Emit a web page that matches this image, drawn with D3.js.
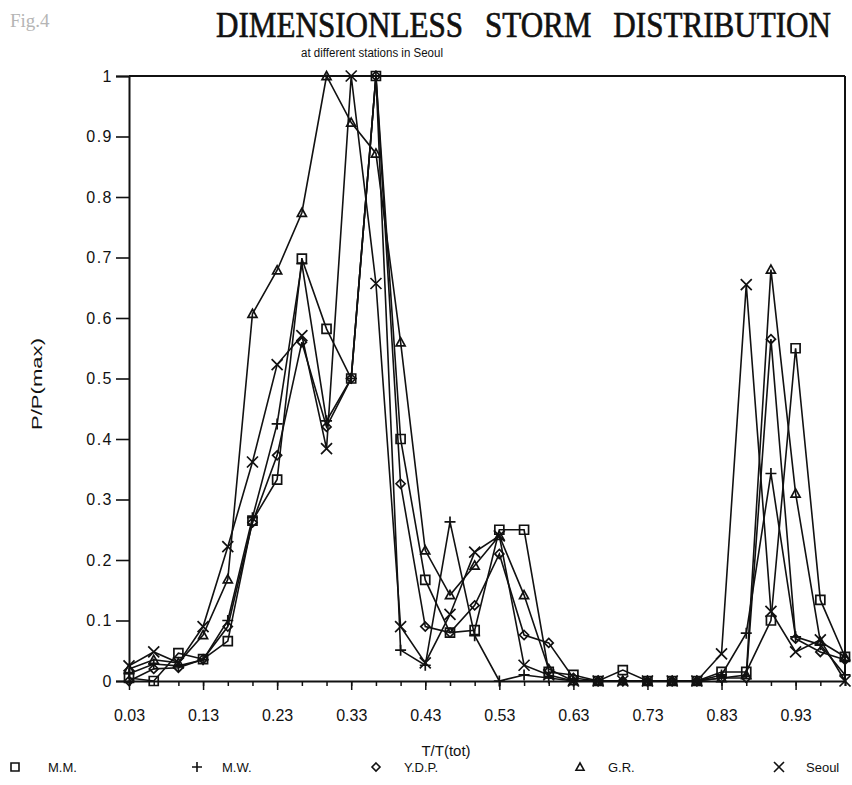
<!DOCTYPE html>
<html>
<head>
<meta charset="utf-8">
<script src="https://cdn.jsdelivr.net/npm/d3@7"></script>
<style>
  html, body { margin: 0; padding: 0; background: #fff; }
  svg { display: block; }
</style>
</head>
<body>
<svg id="chart" width="852" height="785"></svg>
<script>
// ---------- DATA ----------
const tValues = [0.0333, 0.0667, 0.1, 0.1333, 0.1667, 0.2, 0.2333, 0.2667, 0.3, 0.3333,
                 0.3667, 0.4, 0.4333, 0.4667, 0.5, 0.5333, 0.5667, 0.6, 0.6333, 0.6667,
                 0.7, 0.7333, 0.7667, 0.8, 0.8333, 0.8667, 0.9, 0.9333, 0.9667, 1.0];

const seriesNames = ["M.M.", "M.W.", "Y.D.P.", "G.R.", "Seoul"];

const valuesMM    = [0.005, 0, 0.046, 0.036, 0.066, 0.265, 0.333, 0.698, 0.582, 0.5,
                     1.0, 0.4, 0.167, 0.08, 0.084, 0.25, 0.25, 0.015, 0.01, 0,
                     0.018, 0, 0, 0, 0.015, 0.015, 0.1, 0.55, 0.134, 0.04];
const valuesMW    = [0.012, 0.028, 0.025, 0.035, 0.1, 0.27, 0.425, 0.69, 0.43, 0.5,
                     1.0, 0.051, 0.026, 0.263, 0.075, 0, 0.01, 0.005, 0, 0,
                     0, 0, 0, 0, 0.01, 0.079, 0.343, 0.073, 0.06, 0.01];
const valuesYDP   = [0, 0.02, 0.022, 0.036, 0.09, 0.262, 0.373, 0.56, 0.42, 0.5,
                     1.0, 0.326, 0.09, 0.08, 0.125, 0.21, 0.076, 0.063, 0.005, 0,
                     0, 0, 0, 0, 0.005, 0.005, 0.565, 0.07, 0.048, 0.035];
const valuesGR    = [0.02, 0.035, 0.03, 0.076, 0.168, 0.607, 0.679, 0.774, 1.0, 0.923,
                     0.872, 0.56, 0.216, 0.142, 0.191, 0.24, 0.142, 0.02, 0, 0,
                     0, 0, 0, 0, 0.005, 0.01, 0.68, 0.31, 0.065, 0.04];
const valuesSeoul = [0.025, 0.048, 0.03, 0.09, 0.222, 0.362, 0.523, 0.571, 0.384, 1.0,
                     0.657, 0.09, 0.03, 0.11, 0.213, 0.24, 0.026, 0.01, 0, 0,
                     0, 0, 0, 0, 0.045, 0.655, 0.115, 0.048, 0.068, 0];

const xTickValues = [0.0333, 0.1333, 0.2333, 0.3333, 0.4333, 0.5333, 0.6333, 0.7333, 0.8333, 0.9333];
const xTickLabels = ["0.03", "0.13", "0.23", "0.33", "0.43", "0.53", "0.63", "0.73", "0.83", "0.93"];
const yTickValues = [0, 0.1, 0.2, 0.3, 0.4, 0.5, 0.6, 0.7, 0.8, 0.9, 1];
const yTickLabels = ["0", "0.1", "0.2", "0.3", "0.4", "0.5", "0.6", "0.7", "0.8", "0.9", "1"];

const titleText = "DIMENSIONLESS STORM DISTRIBUTION";
const subtitleText = "at different stations in Seoul";
const xAxisTitle = "T/T(tot)";
const yAxisTitle = "P/P(max)";
const figLabel = "Fig.4";

// ---------- LAYOUT ----------
const svg = d3.select("#chart");
const plotLeft = 129, plotRight = 845, plotTop = 76, plotBottom = 681;

const x = d3.scaleLinear().domain([tValues[0], tValues[tValues.length - 1]]).range([plotLeft, plotRight]);
const y = d3.scaleLinear().domain([0, 1]).range([plotBottom, plotTop]);

const series = [
  { name: seriesNames[0], values: valuesMM,    symbol: "square" },
  { name: seriesNames[1], values: valuesMW,    symbol: "plus" },
  { name: seriesNames[2], values: valuesYDP,   symbol: "diamond" },
  { name: seriesNames[3], values: valuesGR,    symbol: "triangle" },
  { name: seriesNames[4], values: valuesSeoul, symbol: "x" }
];

function markerPath(type, s) {
  const h = s / 2;
  switch (type) {
    case "square":   return `M${-h},${-h}H${h}V${h}H${-h}Z`;
    case "plus":     return `M${-h},0H${h}M0,${-h}V${h}`;
    case "diamond":  return `M0,${-h}L${h},0L0,${h}L${-h},0Z`;
    case "triangle": return `M0,${-h}L${h},${h * 0.8}L${-h},${h * 0.8}Z`;
    case "x":        return `M${-h},${-h}L${h},${h}M${h},${-h}L${-h},${h}`;
  }
}

// ---------- TITLES ----------
svg.append("text")
  .attr("x", 10).attr("y", 27)
  .attr("font-family", "Liberation Serif, serif")
  .attr("font-size", 19)
  .attr("fill", "#b5b5b5")
  .text(figLabel);

svg.append("text")
  .attr("transform", "translate(216,37) scale(1,1.16)")
  .attr("x", 0).attr("y", 0)
  .attr("font-family", "Liberation Serif, Times New Roman, serif")
  .attr("font-size", 31)
  .attr("word-spacing", 14)
  .attr("textLength", 615)
  .attr("lengthAdjust", "spacingAndGlyphs")
  .attr("fill", "#111")
  .attr("stroke", "#111")
  .attr("stroke-width", 0.55)
  .text(titleText);

svg.append("text")
  .attr("x", 372).attr("y", 57)
  .attr("text-anchor", "middle")
  .attr("font-family", "Liberation Sans, Arial, sans-serif")
  .attr("font-size", 12)
  .attr("textLength", 142)
  .attr("lengthAdjust", "spacingAndGlyphs")
  .attr("fill", "#111")
  .text(subtitleText);

// ---------- FRAME & AXES ----------
const frame = svg.append("g").attr("stroke", "#111").attr("stroke-width", 2).attr("fill", "none");
frame.append("line").attr("x1", plotLeft).attr("x2", plotRight).attr("y1", y(1)).attr("y2", y(1));
frame.append("line").attr("x1", plotRight).attr("x2", plotRight).attr("y1", y(1)).attr("y2", y(0));

const yAxis = d3.axisLeft(y).tickValues(yTickValues).tickSize(13).tickPadding(3)
  .tickFormat((d, i) => yTickLabels[i]);
const gy = svg.append("g").attr("transform", `translate(${plotLeft},0)`).call(yAxis);
gy.select(".domain").attr("stroke", "#111").attr("stroke-width", 2);
gy.selectAll(".tick line").attr("stroke", "#111").attr("stroke-width", 1.6);
gy.selectAll(".tick text")
  .attr("font-family", "Liberation Sans, Arial, sans-serif")
  .attr("font-size", 16).attr("letter-spacing", 1.5).attr("fill", "#111");

const xAxisMinor = d3.axisBottom(x).tickValues(tValues).tickSize(5).tickFormat("");
const gxm = svg.append("g").attr("transform", `translate(0,${plotBottom})`).call(xAxisMinor);
gxm.select(".domain").attr("stroke", "#111").attr("stroke-width", 2);
gxm.selectAll(".tick line").attr("stroke", "#111").attr("stroke-width", 1.5);

const xAxis = d3.axisBottom(x).tickValues(xTickValues).tickSize(9).tickPadding(20)
  .tickFormat((d, i) => xTickLabels[i]);
const gx = svg.append("g").attr("transform", `translate(0,${plotBottom})`).call(xAxis);
gx.select(".domain").remove();
gx.selectAll(".tick line").attr("stroke", "#111").attr("stroke-width", 1.5);
gx.selectAll(".tick text")
  .attr("font-family", "Liberation Sans Narrow, Liberation Sans, Arial, sans-serif")
  .attr("font-size", 16).attr("fill", "#111");

svg.append("text")
  .attr("x", 446).attr("y", 756)
  .attr("text-anchor", "middle")
  .attr("font-family", "Liberation Sans Narrow, Liberation Sans, Arial, sans-serif")
  .attr("font-size", 15).attr("fill", "#111")
  .text(xAxisTitle);

svg.append("text")
  .attr("transform", "translate(42,384) rotate(-90)")
  .attr("text-anchor", "middle")
  .attr("font-family", "Liberation Sans, Arial, sans-serif")
  .attr("font-size", 15)
  .attr("textLength", 92)
  .attr("lengthAdjust", "spacingAndGlyphs")
  .attr("fill", "#111")
  .text(yAxisTitle);

// ---------- SERIES ----------
const line = d3.line().x((d, i) => x(tValues[i])).y(d => y(d));
const gSeries = svg.append("g");
series.forEach(s => {
  gSeries.append("path")
    .datum(s.values)
    .attr("d", line)
    .attr("fill", "none")
    .attr("stroke", "#111")
    .attr("stroke-width", 1.6);
});
series.forEach(s => {
  gSeries.selectAll(null)
    .data(s.values)
    .join("path")
    .attr("transform", (d, i) => `translate(${x(tValues[i])},${y(d)})`)
    .attr("d", markerPath(s.symbol, s.symbol === "plus" || s.symbol === "x" ? 11 : 9))
    .attr("fill", "none")
    .attr("stroke", "#111")
    .attr("stroke-width", 1.7);
});

// ---------- LEGEND ----------
const legendX = [15, 197, 376, 580, 779];
const legendLabelX = [48, 222, 404, 608, 806];
const gl = svg.append("g");
series.forEach((s, i) => {
  gl.append("path")
    .attr("transform", `translate(${legendX[i]},767)`)
    .attr("d", markerPath(s.symbol, s.symbol === "plus" || s.symbol === "x" ? 10 : 8))
    .attr("fill", "none").attr("stroke", "#111").attr("stroke-width", 1.6);
  gl.append("text")
    .attr("x", legendLabelX[i]).attr("y", 772)
    .attr("font-family", "Liberation Sans Narrow, Liberation Sans, Arial, sans-serif")
    .attr("font-size", 13).attr("fill", "#111")
    .text(s.name);
});
</script>
</body>
</html>
